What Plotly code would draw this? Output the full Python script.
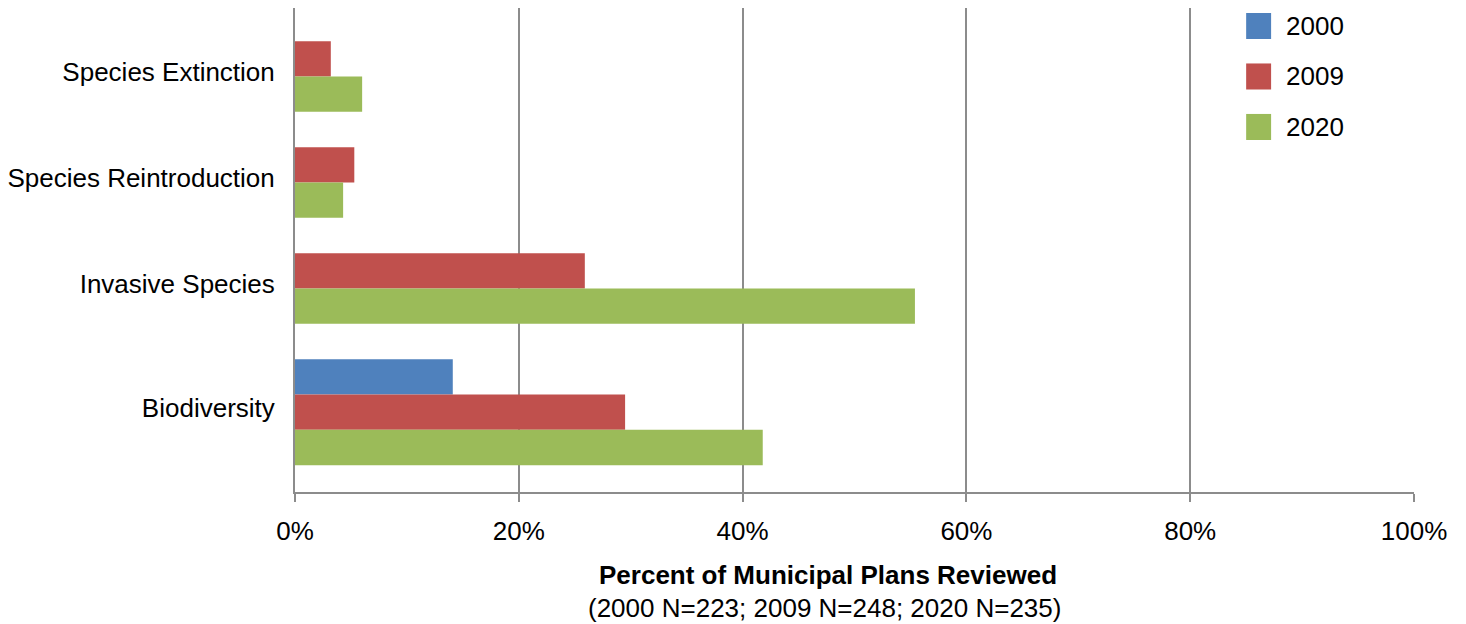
import plotly.graph_objects as go

# Categories listed bottom to top
categories = ["Biodiversity", "Invasive Species", "Species Reintroduction", "Species Extinction"]
years = ["2000", "2009", "2020"]

# Percent of municipal plans mentioning each topic (None = not surveyed)
pct_2000 = [14.1, None, None, None]
pct_2009 = [29.5, 25.9, 5.3, 3.2]
pct_2020 = [41.8, 55.4, 4.3, 6.0]

x_ticks = [0, 0.2, 0.4, 0.6, 0.8, 1.0]

colors = {"2000": "#4F81BD", "2009": "#C0504D", "2020": "#9BBB59"}
series = {"2000": pct_2000, "2009": pct_2009, "2020": pct_2020}

FONT = "Liberation Sans, Arial, sans-serif"
GRID = "#8C8C8C"

# Stack one slot per present bar, newest year at the bottom of each group,
# with one empty slot between groups.
slot = 0
positions = {yr: [] for yr in years}
values = {yr: [] for yr in years}
group_centers = []
for i, cat in enumerate(categories):
    first = slot
    for yr in reversed(years):
        v = series[yr][i]
        if v is None:
            continue
        positions[yr].append(slot)
        values[yr].append(v / 100)
        slot += 1
    group_centers.append((first + slot - 1) / 2 + 0.13)
    slot += 1
last_slot = slot - 2

fig = go.Figure()
for yr in years:
    fig.add_trace(go.Bar(
        x=values[yr], y=positions[yr], orientation="h", width=1.0,
        marker=dict(color=colors[yr], line=dict(width=0)),
        name=yr, showlegend=False,
    ))

# Legend drawn as colour squares with labels in the upper right
leg_top = 0.9628
leg_step = 0.1043
half = 0.0269
for k, yr in enumerate(years):
    yc = leg_top - k * leg_step
    fig.add_shape(type="rect", xref="paper", yref="paper",
                  x0=0.850, x1=0.8723, y0=yc - half, y1=yc + half,
                  fillcolor=colors[yr], line=dict(width=0))
    fig.add_annotation(text=yr, xref="paper", yref="paper", x=0.884, y=yc,
                       xanchor="left", yanchor="middle", showarrow=False,
                       font=dict(family=FONT, size=26, color="black"))

fig.add_annotation(text="<b>Percent of Municipal Plans Reviewed</b>",
                   xref="paper", yref="paper", x=0.4766, y=-0.1715,
                   xanchor="center", yanchor="middle", showarrow=False,
                   font=dict(family=FONT, size=26, color="black"))
fig.add_annotation(text="(2000 N=223; 2009 N=248; 2020 N=235)",
                   xref="paper", yref="paper", x=0.473, y=-0.2397,
                   xanchor="center", yanchor="middle", showarrow=False,
                   font=dict(family=FONT, size=26, color="black"))

fig.update_layout(
    width=1466, height=624,
    margin=dict(l=294.5, r=52, t=8, b=132, pad=0),
    paper_bgcolor="white", plot_bgcolor="white",
    barmode="overlay",
    font=dict(family=FONT, size=26, color="black"),
    xaxis=dict(
        range=[0, 1], tickvals=x_ticks, tickformat=".0%",
        showgrid=True, gridcolor=GRID, gridwidth=2,
        showline=True, linecolor=GRID, linewidth=2,
        ticks="outside", ticklen=8, tickwidth=2, tickcolor=GRID,
        zeroline=False, automargin=False, ticklabelstandoff=7,
        tickfont=dict(family=FONT, size=26, color="black"),
    ),
    yaxis=dict(
        range=[-0.5 - 0.76, last_slot + 0.5 + 0.94],
        tickvals=group_centers, ticktext=categories,
        showgrid=False, zeroline=False,
        showline=True, linecolor=GRID, linewidth=2,
        ticks="", ticklabelstandoff=13, automargin=False,
        tickfont=dict(family=FONT, size=26, color="black"),
    ),
)

fig.write_html("out.html")
